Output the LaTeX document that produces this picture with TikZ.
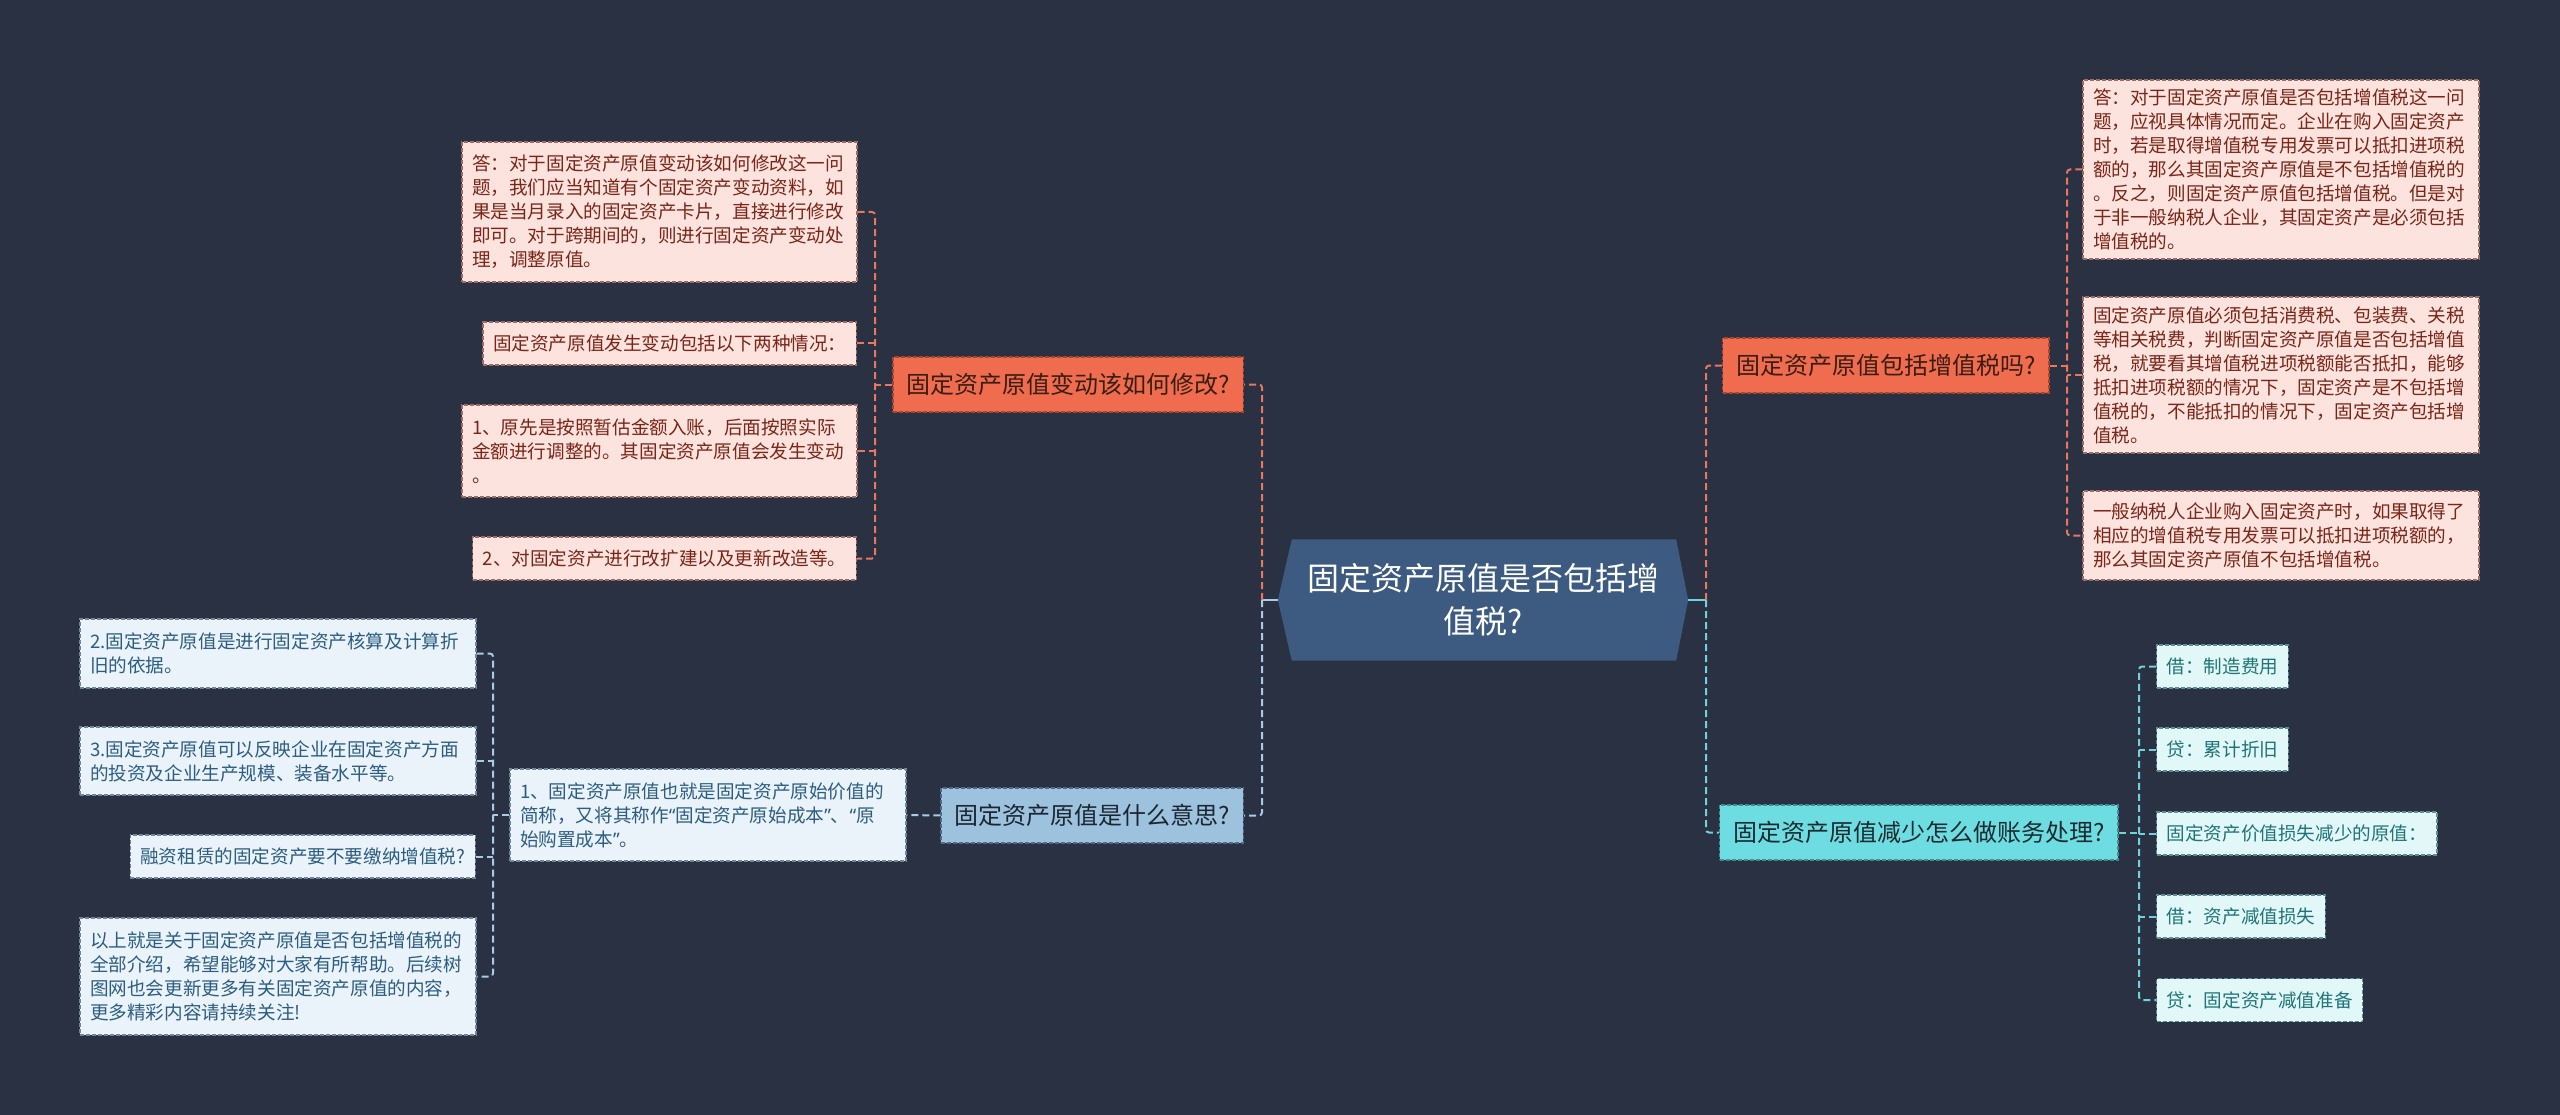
\documentclass[tikz,border=0pt]{standalone}
\usepackage{fontspec}
\setmainfont{Noto Sans CJK SC}
\newfontfamily\latinf{Noto Sans}
\usetikzlibrary{calc}
\definecolor{bg}{HTML}{293142}
\definecolor{rootfill}{HTML}{3D5A80}
\definecolor{orfill}{HTML}{EF6C4E}
\definecolor{orborder}{HTML}{A8452F}
\definecolor{ortext}{HTML}{3A1D14}
\definecolor{pkfill}{HTML}{FDE3DD}
\definecolor{pkborder}{HTML}{9C6B63}
\definecolor{pktext}{HTML}{7A2518}
\definecolor{orline}{HTML}{E8775E}
\definecolor{bufill}{HTML}{9CC2DD}
\definecolor{buborder}{HTML}{4C6A85}
\definecolor{butext}{HTML}{1C2633}
\definecolor{blfill}{HTML}{EAF3F9}
\definecolor{blborder}{HTML}{6F8799}
\definecolor{bltext}{HTML}{2C5D80}
\definecolor{buline}{HTML}{A9CBE3}
\definecolor{cyfill}{HTML}{6EDDE2}
\definecolor{cyborder}{HTML}{3D8D93}
\definecolor{cytext}{HTML}{1B2B30}
\definecolor{clfill}{HTML}{E2F7F7}
\definecolor{clborder}{HTML}{5C8F92}
\definecolor{cltext}{HTML}{1F7478}
\definecolor{cyline}{HTML}{6DD4DB}
\newcommand{\myLQ}{{\latinf “}}
\newcommand{\myRQ}{{\latinf ”}}
\begin{document}
\begin{tikzpicture}[x=1pt,y=-1pt,
  boxline/.style={line width=1.2pt, dash pattern=on 4pt off 2pt},
  leafbase/.style={boxline, inner xsep=10pt, inner ysep=0pt, minimum height=43pt,
     font=\fontsize{18.6}{24}\selectfont, align=left},
  pinkleaf/.style={leafbase, fill=pkfill, draw=pkborder, text=pktext},
  blueleaf/.style={leafbase, fill=blfill, draw=blborder, text=bltext},
  cyanleaf/.style={leafbase, fill=clfill, draw=clborder, text=cltext},
  midbase/.style={boxline, inner xsep=13.5pt, inner ysep=0pt, minimum height=55pt,
     font=\fontsize{24}{30}\selectfont},
  midor/.style={midbase, fill=orfill, draw=orborder, text=ortext},
  midbu/.style={midbase, fill=bufill, draw=buborder, text=butext},
  midcy/.style={midbase, fill=cyfill, draw=cyborder, text=cytext},
  conn/.style={line width=2pt, dash pattern=on 7pt off 4pt, rounded corners=3pt},
  orconn/.style={conn, draw=orline},
  buconn/.style={conn, draw=buline},
  cyconn/.style={conn, draw=cyline}]
\useasboundingbox (0,0) rectangle (2560,1115);
\fill[bg] (0,0) rectangle (2560,1115);

% root
\node[minimum width=410pt, minimum height=121pt, inner sep=0pt] (root) at (1483,600) {};
\fill[rootfill] (root.west) -- ([xshift=14pt]root.north west) -- ([xshift=-12pt]root.north east)
  -- (root.east) -- ([xshift=-12pt]root.south east) -- ([xshift=14pt]root.south west) -- cycle;
\node[text=white, align=center, font=\fontsize{32}{43}\selectfont] (roottext) at (root.center)
  {固定资产原值是否包括增\\值税?};

% mid nodes
\node[midor, anchor=east] (or1) at (1244,384.5) {固定资产原值变动该如何修改?};
\node[midbu, anchor=east] (bu1) at (1244,815.5) {固定资产原值是什么意思?};
\node[midor, anchor=west] (or2) at (1722,365.5) {固定资产原值包括增值税吗?};
\node[midcy, anchor=west] (cy1) at (1719,832.5) {固定资产原值减少怎么做账务处理?};

% left-top leaves
\node[pinkleaf, text width=375pt, minimum height=140pt] (p1) at (659.5,212)
 {答：对于固定资产原值变动该如何修改这一问\\题，我们应当知道有个固定资产变动资料，如\\果是当月录入的固定资产卡片，直接进行修改\\即可。对于跨期间的，则进行固定资产变动处\\理，调整原值。};
\node[pinkleaf, anchor=east] (p2) at (857,343.5) {固定资产原值发生变动包括以下两种情况：};
\node[pinkleaf, text width=375pt, minimum height=92pt] (p3) at (659.5,451)
 {1、原先是按照暂估金额入账，后面按照实际\\金额进行调整的。其固定资产原值会发生变动\\。};
\node[pinkleaf, anchor=east] (p4) at (857,558.5) {2、对固定资产进行改扩建以及更新改造等。};

% left-bottom leaves
\node[blueleaf, text width=376pt, minimum height=92pt] (b1) at (708,815)
 {1、固定资产原值也就是固定资产原始价值的\\简称，又将其称作\myLQ 固定资产原始成本\myRQ 、\myLQ 原\\始购置成本\myRQ 。};
\node[blueleaf, text width=376pt, minimum height=69pt] (c1) at (278,653.5)
 {2.固定资产原值是进行固定资产核算及计算折\\旧的依据。};
\node[blueleaf, text width=376pt, minimum height=68pt] (c2) at (278,761)
 {3.固定资产原值可以反映企业在固定资产方面\\的投资及企业生产规模、装备水平等。};
\node[blueleaf, anchor=east] (c3) at (476,856.5) {融资租赁的固定资产要不要缴纳增值税?};
\node[blueleaf, text width=376pt, minimum height=117pt] (c4) at (278,976.5)
 {以上就是关于固定资产原值是否包括增值税的\\全部介绍，希望能够对大家有所帮助。后续树\\图网也会更新更多有关固定资产原值的内容，\\更多精彩内容请持续关注!};

% right-top leaves
\node[pinkleaf, text width=376pt, minimum height=179pt] (r1) at (2281,169.5)
 {答：对于固定资产原值是否包括增值税这一问\\题，应视具体情况而定。企业在购入固定资产\\时，若是取得增值税专用发票可以抵扣进项税\\额的，那么其固定资产原值是不包括增值税的\\。反之，则固定资产原值包括增值税。但是对\\于非一般纳税人企业，其固定资产是必须包括\\增值税的。};
\node[pinkleaf, text width=376pt, minimum height=156pt] (r2) at (2281,375)
 {固定资产原值必须包括消费税、包装费、关税\\等相关税费，判断固定资产原值是否包括增值\\税，就要看其增值税进项税额能否抵扣，能够\\抵扣进项税额的情况下，固定资产是不包括增\\值税的，不能抵扣的情况下，固定资产包括增\\值税。};
\node[pinkleaf, text width=376pt, minimum height=89pt] (r3) at (2281,535.5)
 {一般纳税人企业购入固定资产时，如果取得了\\相应的增值税专用发票可以抵扣进项税额的，\\那么其固定资产原值不包括增值税。};

% right-bottom leaves
\node[cyanleaf, anchor=west] (q1) at (2156,666.5) {借：制造费用};
\node[cyanleaf, anchor=west] (q2) at (2156,749.5) {贷：累计折旧};
\node[cyanleaf, anchor=west] (q3) at (2156,833.5) {固定资产价值损失减少的原值：};
\node[cyanleaf, anchor=west] (q4) at (2156,916.5) {借：资产减值损失};
\node[cyanleaf, anchor=west] (q5) at (2156,1000) {贷：固定资产减值准备};

% junction coordinates
\coordinate (vL) at (1262,600);
\coordinate (vR) at (1706,600);
\coordinate (v1) at (875,0);
\coordinate (v2) at (493,0);
\coordinate (v3) at (2067,0);
\coordinate (v4) at (2139,0);

% root connectors
\draw[buline, line width=2pt] (root.west) -- (vL);
\draw[cyline, line width=2pt] (root.east) -- (vR);
\draw[orconn] (vL) -- (vL |- or1.east) -- (or1.east);
\draw[buconn] (vL) -- (vL |- bu1.east) -- (bu1.east);
\draw[orconn] (vR) -- (vR |- or2.west) -- (or2.west);
\draw[cyconn] (vR) -- (vR |- cy1.west) -- (cy1.west);

% left-top branch
\draw[orconn] (p1.east) -- (v1 |- p1.east) -- (v1 |- p4.east) -- (p4.east);
\draw[orconn] (p2.east) -- (v1 |- p2.east);
\draw[orconn] (p3.east) -- (v1 |- p3.east);
\draw[orconn] (or1.west) -- (v1 |- or1.west);

% left-bottom branch
\draw[buconn] (bu1.west) -- (b1.east);
\draw[buconn] (c1.east) -- (v2 |- c1.east) -- (v2 |- c4.east) -- (c4.east);
\draw[buconn] (c2.east) -- (v2 |- c2.east);
\draw[buconn] (c3.east) -- (v2 |- c3.east);
\draw[buconn] (b1.west) -- (v2 |- b1.west);

% right-top branch
\draw[orconn] (r1.west) -- (v3 |- r1.west) -- (v3 |- r3.west) -- (r3.west);
\draw[orconn] (r2.west) -- (v3 |- r2.west);
\draw[orconn] (or2.east) -- (v3 |- or2.east);

% right-bottom branch
\draw[cyconn] (q1.west) -- (v4 |- q1.west) -- (v4 |- q5.west) -- (q5.west);
\draw[cyconn] (q2.west) -- (v4 |- q2.west);
\draw[cyconn] (q3.west) -- (v4 |- q3.west);
\draw[cyconn] (q4.west) -- (v4 |- q4.west);
\draw[cyconn] (cy1.east) -- (v4 |- cy1.east);
\end{tikzpicture}
\end{document}
